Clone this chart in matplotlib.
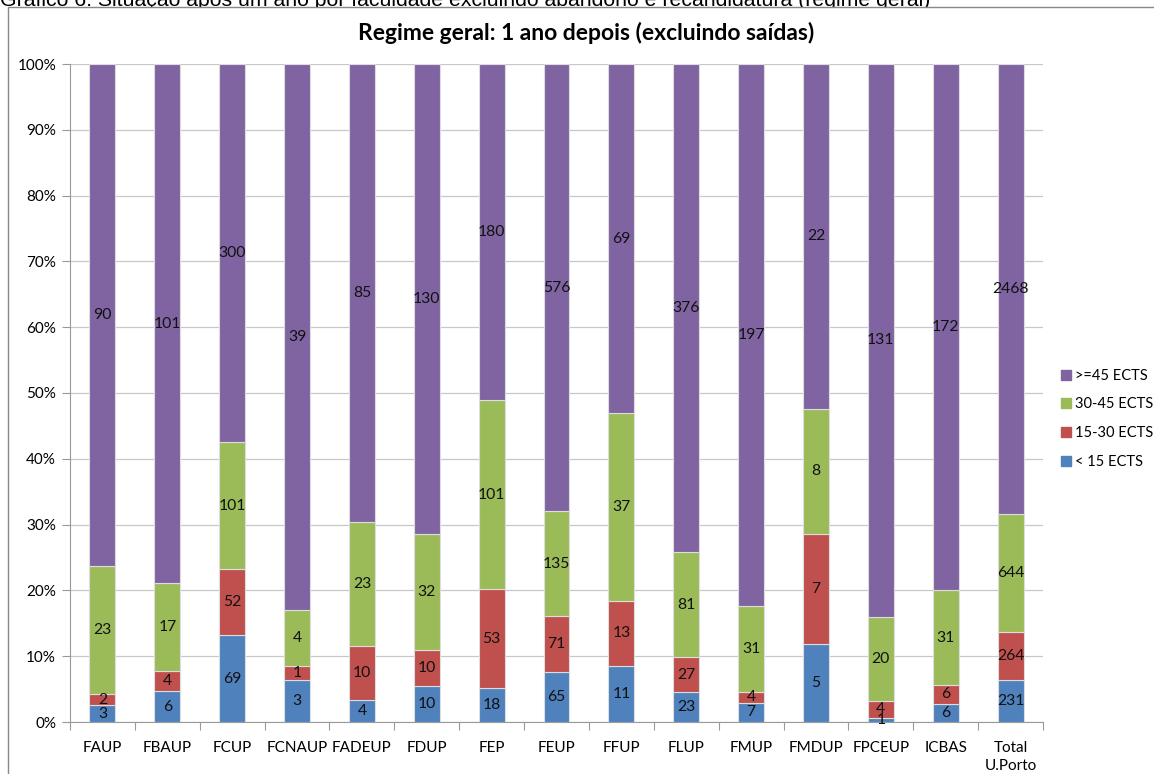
import numpy as np
import matplotlib.pyplot as plt
from matplotlib.patches import Rectangle
from matplotlib.lines import Line2D

plt.rcParams['font.family'] = ['Lato', 'DejaVu Sans']

# faculties and counts per ECTS band (labels are the counts, bars the shares)
faculties = ['FAUP', 'FBAUP', 'FCUP', 'FCNAUP', 'FADEUP', 'FDUP', 'FEP', 'FEUP',
             'FFUP', 'FLUP', 'FMUP', 'FMDUP', 'FPCEUP', 'ICBAS', 'Total\nU.Porto']
lt15 = [3, 6, 69, 3, 4, 10, 18, 65, 11, 23, 7, 5, 1, 6, 231]
e15_30 = [2, 4, 52, 1, 10, 10, 53, 71, 13, 27, 4, 7, 4, 6, 264]
e30_45 = [23, 17, 101, 4, 23, 32, 101, 135, 37, 81, 31, 8, 20, 31, 644]
ge45 = [90, 101, 300, 39, 85, 130, 180, 576, 69, 376, 197, 22, 131, 172, 2468]

series = [lt15, e15_30, e30_45, ge45]
names = ['< 15 ECTS', '15-30 ECTS', '30-45 ECTS', '>=45 ECTS']
colors = ['#4F81BD', '#C0504D', '#9BBB59', '#8064A2']

counts = np.array(series, dtype=float)
shares = counts / counts.sum(axis=0) * 100

fig = plt.figure(figsize=(11.54, 7.74), dpi=100)

# outer chart frame
fig.patches.append(Rectangle((8 / 1154, -0.01), 1.0, 1 - 7 / 774 + 0.01,
                             transform=fig.transFigure, facecolor='white',
                             edgecolor='#888888', linewidth=1.0, zorder=1))
fig.text(0.0, 1 - 6 / 774, 'Gráfico 6: Situação após um ano por faculdade excluindo abandono e recandidatura (regime geral)',
         fontsize=15.3, family=['Liberation Sans'], va='baseline', ha='left', zorder=0)

ax = fig.add_axes([70 / 1154, 52 / 774, 973 / 1154, 658 / 774])
ax.set_zorder(2)
ax.patch.set_alpha(0)

x = np.arange(len(faculties))
bottom = np.zeros(len(faculties))
for vals, cnt, name, col in zip(shares, counts, names, colors):
    ax.bar(x, vals, width=0.4, bottom=bottom, color=col, edgecolor='#dddddd',
           linewidth=0.8, label=name, zorder=3)
    for xi, b, v, c in zip(x, bottom, vals, cnt):
        ax.text(xi, b + v / 2, f'{int(c)}', ha='center', va='center',
                fontsize=11.3, color='#111111', zorder=4)
    bottom += vals

ax.set_xlim(-0.5, len(faculties) - 0.5)
ax.set_ylim(0, 100)
ax.set_yticks(np.arange(0, 101, 10))
ax.set_yticklabels([f'{v}%' for v in range(0, 101, 10)], fontsize=11)
ax.yaxis.grid(True, color='#c8c8c8', linewidth=0.9, zorder=0)
ax.set_axisbelow(True)
ax.tick_params(axis='y', length=6, color='#999999', pad=4)

ax.set_xticks(np.arange(-0.5, len(faculties), 1.0))
ax.set_xticklabels([])
ax.tick_params(axis='x', which='major', length=6, color='#999999')
ax.set_xticks(x, minor=True)
ax.set_xticklabels(faculties, minor=True, fontsize=11, linespacing=1.3)
ax.tick_params(axis='x', which='minor', length=0, pad=14)

for s in ['top', 'right']:
    ax.spines[s].set_visible(False)
for s in ['left', 'bottom']:
    ax.spines[s].set_color('#999999')

fig.text(586 / 1154, 1 - 33 / 774, 'Regime geral: 1 ano depois (excluindo saídas)',
         ha='center', va='center', fontsize=16.5, fontweight='bold')

handles = [Line2D([], [], marker='s', linestyle='', markersize=7.5,
                  markerfacecolor=c, markeredgecolor=c) for c in colors[::-1]]
fig.legend(handles, names[::-1], loc='upper left',
           bbox_to_anchor=(1054 / 1154, 1 - 366 / 774), frameon=False,
           fontsize=10.5, handletextpad=0.05, labelspacing=1.0, handlelength=1.2,
           borderaxespad=0, borderpad=0.2)

fig.savefig('out.png', dpi=100)
